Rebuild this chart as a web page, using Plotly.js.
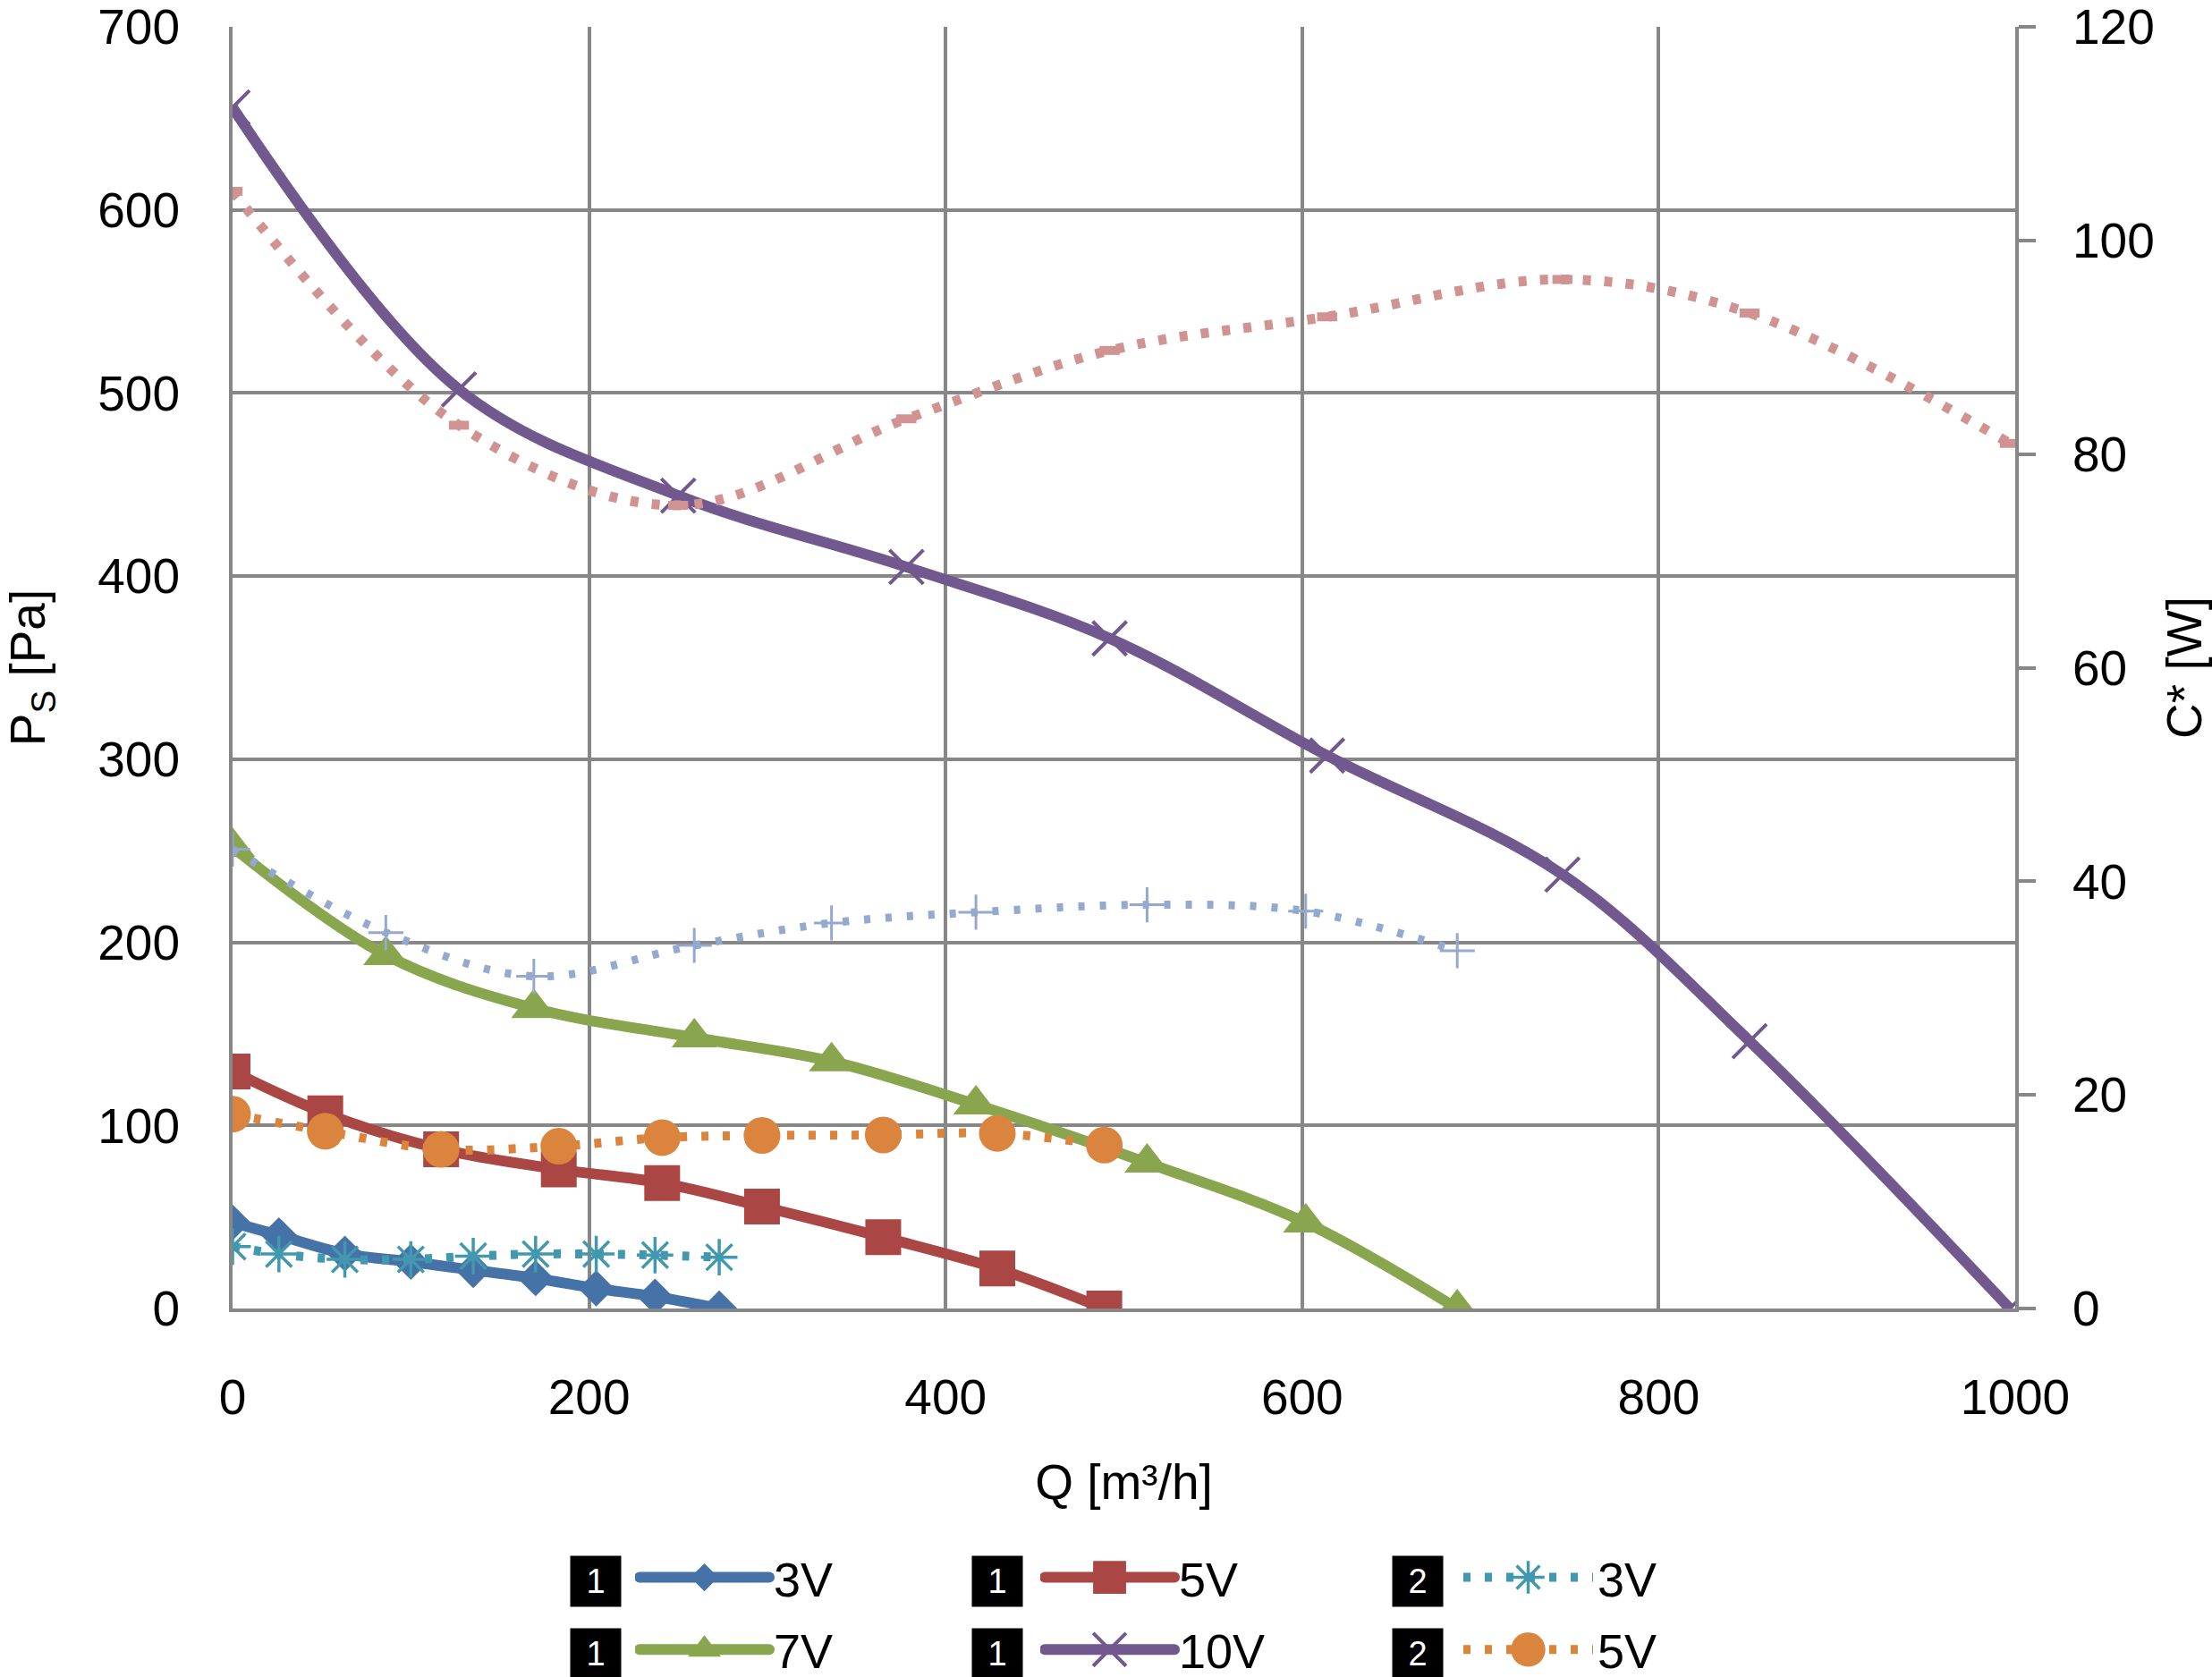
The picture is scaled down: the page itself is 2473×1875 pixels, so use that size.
<!DOCTYPE html>
<html>
<head>
<meta charset="utf-8">
<script src="https://cdn.plot.ly/plotly-3.0.1.min.js"></script>
<style>
  html, body { margin: 0; padding: 0; background: #fff; }
  #chart { width: 2473px; height: 1875px; }
</style>
</head>
<body>
<div id="chart"></div>
<script>
// Q [m3/h] for each voltage
var q3 = [0, 26, 63, 100, 135, 170, 204, 237, 273];
var q5 = [0, 52, 117, 183, 241, 297, 365, 429, 489];
var q7 = [0, 86, 169, 259, 336, 417, 513, 602, 687];
var q10 = [0, 127, 250, 378, 492, 614, 746, 851, 997];

// static pressure Ps [Pa]  (1)
var ps3 = [47, 40, 30, 25.5, 21, 16.5, 11, 6.5, 0];
var ps5 = [129.5, 106.6, 87, 76, 68.5, 55.7, 38.9, 21.8, 0];
var ps7 = [252, 193, 164, 148, 135, 111.4, 79.6, 46.9, 0];
var ps10 = [656, 502, 444, 405, 366, 302, 237, 146, 0];

// power C* [W]  (2)
var c3 = [5.8, 5.1, 4.6, 4.6, 4.9, 5.1, 5.1, 5.0, 4.8];
var c5 = [18.2, 16.6, 14.9, 15.2, 16.0, 16.2, 16.25, 16.4, 15.3];
var c7 = [43.0, 35.2, 31.1, 34.0, 36.1, 37.1, 37.8, 37.2, 33.5];
var c10 = [104.6, 82.7, 75.2, 83.3, 89.7, 92.85, 96.35, 93.2, 81.0];

var FONT = 'Liberation Sans, Arial, sans-serif';
var GRID = '#878787';

function solid(x, y, name, color, symbol, size, leg, ls) {
  return {
    x: x, y: y, name: name, type: 'scatter', mode: 'lines+markers',
    line: {color: color, width: 12, shape: 'spline', smoothing: 1},
    marker: {color: color, symbol: symbol, size: size,
             line: {color: color, width: symbol.indexOf('thin') >= 0 ? 4 : 0}},
    legend: leg, showlegend: !!leg, meta: {ls: ls, lw: 12}
  };
}
function dotted(x, y, name, color, symbol, size, mlw, lw, leg, ls) {
  return {
    x: x, y: y, name: name, type: 'scatter', mode: 'lines+markers', yaxis: 'y2',
    line: {color: color, width: lw, dash: (lw - 2) + 'px,' + (26 - lw) + 'px', shape: 'spline', smoothing: 1},
    marker: {color: color, symbol: symbol, size: size, line: {color: color, width: mlw}},
    legend: leg, showlegend: !!leg, meta: {ls: ls, lw: lw}
  };
}

var data = [
  solid(q3, ps3, '3V', '#4572A7', 'diamond', 31, 'legend', 1.5),
  solid(q5, ps5, '5V', '#AA4643', 'square', 40, 'legend2', 2.3),
  solid(q7, ps7, '7V', '#89A54E', 'triangle-up', 44, 'legend4', 2.0),
  solid(q10, ps10, '10V', '#71588F', 'x-thin-open', 38, 'legend5', 2.3),
  dotted(q3, c3, '3V', '#4198AF', 'asterisk-open', 34, 3.5, 10, 'legend3', 1.9),
  dotted(q5, c5, '5V', '#DB843D', 'circle', 41, 0, 10, 'legend6', 2.4),
  dotted(q7, c7, '7V', '#93A9CF', 'cross-thin-open', 28, 3, 9, null, 1),
  dotted(q10, c10, '10V', '#D19392', 'line-ew-open', 16, 10, 11, null, 1)
];

var colX = [0.2258, 0.4531, 0.6879];
var rowY = [-0.2100, -0.2664];
function leg(c, r) {
  return {x: colX[c], y: rowY[r], xanchor: 'left', yanchor: 'middle',
          orientation: 'h', bgcolor: 'rgba(0,0,0,0)', borderwidth: 0,
          itemwidth: 145, font: {family: FONT, size: 54, color: '#000'}};
}

var boxX = [0.2037, 0.4290, 0.6648];
var boxY = [-0.2128, -0.2694];
var boxText = [['1', '1', '2'], ['1', '1', '2']];
var annotations = [];
for (var r = 0; r < 2; r++) {
  for (var c = 0; c < 3; c++) {
    annotations.push({
      text: boxText[r][c], xref: 'paper', yref: 'paper', x: boxX[c], y: boxY[r],
      xanchor: 'center', yanchor: 'middle',
      showarrow: false, bgcolor: '#000', width: 56, height: 56, borderpad: 0,
      font: {family: FONT, size: 38, color: '#fff'}
    });
  }
}

var layout = {
  width: 2473, height: 1875,
  margin: {l: 260, r: 220, t: 30, b: 412, autoexpand: false},
  paper_bgcolor: '#fff', plot_bgcolor: '#fff',
  font: {family: FONT, size: 55, color: '#000'},
  xaxis: {
    range: [0, 1000], dtick: 200, tick0: 0,
    showgrid: true, gridcolor: GRID, gridwidth: 3.5, zeroline: false,
    showline: true, linecolor: GRID, linewidth: 4, ticks: '',
    tickfont: {family: FONT, size: 55}, ticklabelstandoff: 48,
    ticklabeloverflow: 'allow',
    title: {text: 'Q [m³/h]', font: {family: FONT, size: 55}, standoff: 46}
  },
  yaxis: {
    range: [0, 700], dtick: 100, tick0: 0,
    showgrid: true, gridcolor: GRID, gridwidth: 3.5, zeroline: false,
    showline: true, linecolor: GRID, linewidth: 4, ticks: '',
    tickfont: {family: FONT, size: 55}, ticklabelstandoff: 44,
    ticklabeloverflow: 'allow',
    title: {text: 'P<sub>S</sub> [Pa]', font: {family: FONT, size: 55}, standoff: 51}
  },
  yaxis2: {
    overlaying: 'y', side: 'right', anchor: 'x',
    range: [0, 120], dtick: 20, tick0: 0,
    showgrid: false, zeroline: false,
    showline: true, linecolor: GRID, linewidth: 4,
    ticks: 'outside', ticklen: 19, tickwidth: 4, tickcolor: GRID,
    tickfont: {family: FONT, size: 55}, ticklabelstandoff: 30,
    ticklabeloverflow: 'allow',
    title: {text: 'C* [W]', font: {family: FONT, size: 55}, standoff: 60}
  },
  legend: leg(0, 0), legend2: leg(1, 0), legend3: leg(2, 0),
  legend4: leg(0, 1), legend5: leg(1, 1), legend6: leg(2, 1),
  annotations: annotations
};

Plotly.newPlot('chart', data, layout, {displayModeBar: false, responsive: false}).then(function (gd) {
  // plotly caps legend symbols at 16px / 10px lines, so enlarge them like the original legend
  gd.querySelectorAll('.infolayer g.traces').forEach(function (g) {
    var d = g.__data__;
    if (!d || !d[0] || !d[0].trace) return;
    var m = d[0].trace.meta || {};
    g.querySelectorAll('path.scatterpts').forEach(function (p) {
      p.setAttribute('transform', (p.getAttribute('transform') || '') + ' scale(' + m.ls + ')');
      p.style.vectorEffect = 'non-scaling-stroke';
    });
    g.querySelectorAll('.legendlines path').forEach(function (p) {
      p.style.strokeWidth = m.lw + 'px';
      if (m.lw >= 12) p.style.strokeLinecap = 'round';
    });
  });
});
</script>
</body>
</html>
